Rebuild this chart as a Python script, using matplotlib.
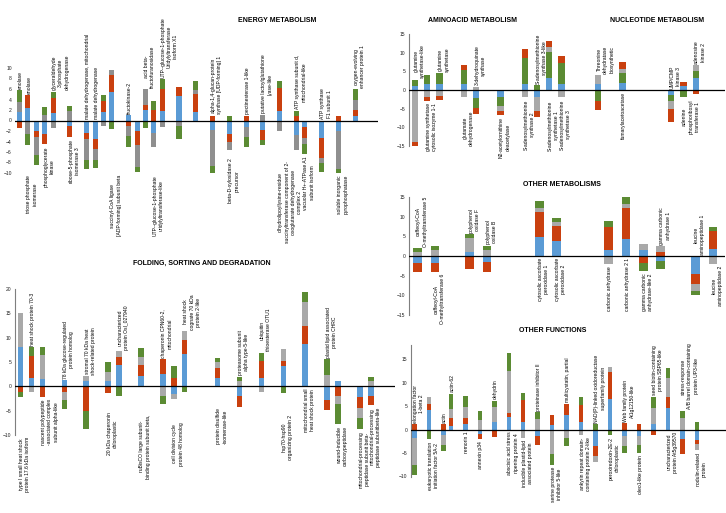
import numpy as np
import matplotlib
matplotlib.use("Agg")
import matplotlib.pyplot as plt

plt.rcParams['font.family'] = ['Liberation Sans', 'DejaVu Sans']

W, H = 726, 513
BLUE, RED, GREEN = '#5b9bd5', '#c9400f', '#5b8b33'
GREY_DARK, GREY = '#8f8f8f', '#a9a9a9'

# ---------------- ENERGY METABOLISM ----------------
energy_labels = [
    "enolase", "enolase", "triose phosphate\nisomerase", "phosphoglycerate\nkinase",
    "glyceraldehyde\n3-phosphate\ndehydrogenase", "ribose-5-phosphate\nisomerase 3",
    "malate dehydrogenase, mitochondrial", "malate dehydrogenase", "malate dehydrogenase",
    "succinyl-CoA ligase\n[ADP-forming] subunit beta", "fructokinase-2", "fructokinase-5",
    "acid beta-\nfructofuranosidase", "UTP--glucose-1-phosphate\nuridylyltransferase-like",
    "UTP--glucose-1-phosphate\nUridylyltransferase\nisoform X1",
    "pyruvate dehydrogenase E1\ncomponent subunit alpha,",
    "aldehyde dehydrogenase\nfamily 2 member B7d",
    "alpha-1,4-glucan-protein\nsynthase [UDP-forming] 1", "beta-D-xylosidase 2\nprecursor",
    "pectinesterase 1-like", "putative lactoylglutathione\nlyase-like",
    "dihydrolipoyllysine-residue\nsuccinyltransferase component of 2-\noxoglutarate dehydrogenase\ncomplex 2",
    "ATP synthase subunit d,\nmitochondrial-like", "vacuolar H+-ATPase A1\nsubunit isoform",
    "ATP synthase\nF1 subunit 1", "soluble inorganic\npyrophosphatase",
    "oxygen-evolving\nenhancer protein 1",
]
energy_blue = [1.7, 2.3, -2.0, -2.6, 1.4, -1.1, -2.4, -3.5, 1.6, 5.4, 1.0, -2.0, 2.0, -2.3,
               1.9, 4.6, 1.7, -1.8, -2.6, -1.3, -1.8, 1.9, -2.8, -1.3, -3.3, -2.0, 0.9]
energy_red = [-1.5, 2.5, -1.2, -1.9, 2.9, -2.0, -1.1, -2.0, 2.1, 3.3, -1.0, -2.7, 1.0, 2.0,
              4.1, 1.7, 3.3, 0.9, -1.5, 0.9, -1.9, 4.3, 0.9, -2.1, -3.9, 0.9, 1.1]
energy_grey = [1.9, -2.5, -3.3, 1.0, -1.5, 1.9, -4.0, -2.0, -1.1, 1.0, -2.0, -4.1, 3.0, -2.7,
               -1.2, -1.0, 0.8, -6.9, -1.6, -1.9, 1.1, -2.0, -2.8, -1.1, -0.9, -7.2, 2.0]
energy_green = [2.2, -2.2, -2.0, 1.5, 1.2, 0.9, -1.8, -1.5, 1.1, -1.6, -2.0, -1.0, -1.5, 1.7,
                1.9, -2.6, 1.7, -1.3, 0.9, -1.8, -0.9, 1.3, 1.0, -1.9, -1.7, -0.8, 2.0]
energy_slots = [0, 1, 2, 3, 4, 6, 8, 9, 10, 11, 13, 14, 15, 16, 17, 19, 21, 23, 25, 27, 29,
                31, 33, 34, 36, 38, 40]
energy_side = "uudduduuddudududduduudududu"
energy_label_at = {2: -10, 8: -12.5, 9: -10, 11: -10.3, 13: -10, 15: -10.3, 16: -10.3,
                   18: -6.8, 21: -7.4}
energy_nudge = {2: -1.0}

# ---------------- AMINOACID + NUCLEOTIDE METABOLISM ----------------
amino_labels = [
    "glutamine\nsynthetase-like", "glutamine synthetase\ncytosolic isozyme 1-1",
    "glutamine\nsynthetase", "glutamate\ndehydrogenase", "3-dehydroquinate\nsynthase",
    "N2-acetylornithine\ndeacetylase", "S-adenosylmethionine\nsynthase 2",
    "S-adenosylmethionine\nsynthase 3-like", "S-adenosylmethionine\nsynthetase 1",
    "S-adenosylmethionine\nsynthetase 3", "Threonine\ndehydratase\nbiosynthetic",
    "fumarylacetoacetase", "UMP/CMP\nkinase 3", "adenine\nphosphoribosyl\ntransferase 1",
    "adenosine\nkinase 2",
]
amino_blue = [1.2, 1.6, 1.6, 1.6, -2.2, -1.8, 1.6, -2.0, 3.3, 1.6, 1.6, 1.8, -1.3, 1.2, 3.1]
amino_green = [1.6, 2.5, 2.9, 3.8, -2.7, -2.4, 7.0, 1.3, 6.9, 5.6, -2.9, 2.7, -1.6, -2.0, 1.9]
amino_grey = [-13.8, -1.8, -1.5, -2.0, 0.9, -1.4, -2.0, -3.5, 1.2, -2.0, 2.4, 1.1, -2.3, 0.0, 1.6]
amino_red = [-1.5, -1.1, -1.1, 1.2, -1.6, -1.1, 2.4, -1.7, 1.6, 1.8, -2.5, 1.9, -3.3, 0.9, -1.1]
amino_slots = [0, 1, 2, 4, 5, 7, 9, 10, 11, 12, 15, 17, 21, 22, 23]
amino_side = "udududduddudu" + "du"
amino_label_at = {3: -4.8, 8: -2.3}

# ---------------- OTHER METABOLISMS ----------------
other_labels = [
    "caffeoyl-CoA\nO-methyltransferase 5", "caffeoyl-CoA\nO-methyltransferase 6",
    "polyphenol\noxidase F", "polyphenol\noxidase B", "cytosolic ascorbate\nperoxidase 1",
    "cytosolic ascorbate\nperoxidase 2", "carbonic anhydrase", "carbonic anhydrase 2 1",
    "gamma carbonic\nanhydrase-like 2", "gamma carbonic\nanhydrase 1",
    "leucine\naminopeptidase 1", "leucine\naminopeptidase 2",
]
other_blue = [-1.9, -1.7, 1.0, -1.6, 4.8, 3.9, 1.6, 4.3, 1.6, -1.3, -4.7, 1.8]
other_red = [-2.1, -2.4, -3.3, -2.5, 6.5, 3.7, 5.7, 7.9, -1.9, 1.0, -2.3, 4.5]
other_grey = [1.0, 1.6, 3.6, 1.6, 1.0, 1.0, -2.0, 1.0, 1.5, 1.5, -2.0, -2.0]
other_green = [1.0, 1.0, 1.0, 1.0, 1.7, 1.0, 1.7, 1.8, -2.0, -2.0, -1.0, 1.2]
other_slots = [0, 1, 3, 4, 7, 8, 11, 12, 13, 14, 16, 17]
other_side = "uduuddddduud"

# ---------------- OTHER FUNCTIONS ----------------
func_labels = [
    "elongation factor\n1-beta 2", "eukaryotic translation\ninitiation factor 5A-2", "actin",
    "actin-62", "remorin 1", "annexin p34", "dehydrin",
    "abscisic acid stress\nripening protein 4", "inducible plastid-lipid\nassociated protein",
    "proteinase inhibitor II", "serine protease\ninhibitor 5-like", "multicystatin, partial",
    "ankyrin repeat domain-\ncontaining protein 2-like",
    "NAD(P)-linked oxidoreductase\nsuperfamily protein", "peroxiredoxin-2E-2\nchloroplastic",
    "Web family protein\nAt1g12150-like", "oleo1-like protein",
    "seed biotin-containing\nprotein SBP65-like", "uncharacterized\nprotein At5g39570",
    "stress-response\nA/B barrel domain-containing\nprotein UP3-like", "nodulin-related\nprotein",
]
func_blue = [-1.9, 4.2, -1.2, 0.8, 1.2, -1.0, 1.7, 2.6, 1.7, -1.3, 0.9, 3.1, 1.6, -3.5, 6.5,
             -1.3, -1.3, 1.1, 4.6, -2.1, -2.2]
func_red = [1.2, 1.2, 1.2, 1.7, 1.3, -1.1, -1.6, 1.0, 4.6, -1.9, 2.1, 2.4, 3.6, -2.2, 5.8,
            1.3, 1.1, -1.2, 2.4, -3.2, -0.9]
func_grey = [-5.7, 1.6, -2.1, 1.8, 2.4, 2.0, 3.2, 8.8, -1.8, 2.3, -5.3, -1.8, -1.1, -1.3, 1.0,
             -2.1, -1.9, 3.5, 4.0, 2.5, -1.3]
func_green = [-2.0, -2.1, -1.2, 3.3, 2.2, 2.0, 1.2, 3.9, 1.5, 1.4, -2.2, -1.8, 1.8, 1.2, -1.1,
              -1.7, -1.7, 2.4, 2.0, 1.5, 1.5]
func_slots = [0, 2, 4, 5, 7, 9, 11, 13, 15, 17, 19, 21, 23, 25, 27, 29, 31, 33, 35, 37, 39]
func_side = "uduudduddudududududud"

# ---------------- FOLDING, SORTING AND DEGRADATION ----------------
fold_labels = [
    "type I small heat shock\nprotein 17.6 kDa isoform", "heat shock protein 70-3",
    "nascent polypeptide\n-associated complex\nsubunit alpha-like",
    "78 kDa glucose-regulated\nprotein homolog", "stromal 70 kDa heat\nshock-related protein",
    "20 kDa chaperonin\nchloroplastic", "uncharacterized\nprotein OsI_027940",
    "ruBisCO large subunit-\nbinding protein subunit beta,",
    "chaperonin CPN60-2,\nmitochondrial", "cell division cycle\nprotein 48 homolog",
    "heat shock\ncognate 70 kDa\nprotein 2-like", "protein disulfide\n-isomerase-like",
    "proteasome subunit\nalpha type-5-like", "ubiquitin\nthioesterase OTU1",
    "hsp70-hsp90\norganizing protein 2", "mitochondrial small\nheat shock protein",
    "plastid lipid associated\nprotein CHRC", "wound-inducible\ncarboxypeptidase",
    "mitochondrial-processing\npeptidase subunit beta-",
    "mitochondrial-processing\npeptidase subunitbeta-like",
]
fold_blue = [8.0, 1.8, 1.5, 1.2, 1.1, 1.1, 4.3, 2.2, 2.5, -1.5, 6.7, 1.8, -1.9, 1.7, 4.1, 8.8,
             -2.8, 1.0, -2.2, -1.9]
fold_red = [-1.2, 4.5, -2.1, -1.2, -5.1, -1.3, 1.7, 2.1, 3.1, 1.7, 2.8, 2.0, -2.3, 3.6, 1.2,
            3.5, -2.1, -1.9, -2.3, -2.0]
fold_grey = [7.0, -1.2, 5.0, -1.6, 1.0, 1.9, 1.2, 1.8, -2.0, -1.1, 1.8, 1.1, 1.0, -1.2, 2.3,
             5.0, 2.4, -1.7, -2.0, 1.0]
fold_green = [-1.0, 1.8, 1.6, -1.8, -3.7, 2.0, -2.0, 1.7, -1.6, 2.4, -1.2, 0.9, 1.0, 1.6, -1.4,
              2.0, 3.2, -4.1, -2.2, 1.0]
fold_slots = [0, 1, 2, 4, 6, 8, 9, 11, 13, 14, 15, 18, 20, 22, 24, 26, 28, 29, 31, 32]
fold_side = "duduududududuudduddd"
fold_label_at = {0: -10, 5: -4.9, 7: -5.3, 9: -6.9, 11: -4.1, 14: -5.5, 17: -7.6}


fig = plt.figure(figsize=(W / 100, H / 100), dpi=100)


def make_axes(px_left, px_right, px_top, px_bottom, xlim, ylim, yticks, spine=True):
    ax = fig.add_axes([px_left / W, 1 - px_bottom / H,
                       (px_right - px_left) / W, (px_bottom - px_top) / H])
    ax.set_xlim(*xlim)
    ax.set_ylim(*ylim)
    ax.set_yticks(yticks)
    ax.set_xticks([])
    for s in ('top', 'right', 'bottom'):
        ax.spines[s].set_visible(False)
    ax.spines['left'].set_visible(spine)
    ax.spines['left'].set_color('#7f7f7f')
    ax.spines['left'].set_linewidth(0.8)
    ax.tick_params(axis='y', labelsize=3.6, length=0, pad=2.5, labelcolor='#222222')
    ax.patch.set_alpha(0)
    ax.axhline(0, color='black', lw=0.9, zorder=3)
    return ax


def draw_stacks(ax, slots, series, colors, labels, sides, width, label_at=None, nudge=None):
    label_at = label_at or {}
    nudge = nudge or {}
    x = np.array(slots, dtype=float)
    pos = np.zeros(len(x))
    neg = np.zeros(len(x))
    for vals, c in zip(series, colors):
        v = np.array(vals, dtype=float)
        bottom = np.where(v >= 0, pos, neg)
        ax.bar(x, v, width, bottom=bottom, color=c, linewidth=0, zorder=2)
        pos += np.clip(v, 0, None)
        neg += np.clip(v, None, 0)
    for i, (xi, top, bot, lab, side) in enumerate(zip(x, pos, neg, labels, sides)):
        xl = xi + nudge.get(i, 0)
        kw = dict(textcoords='offset points', rotation=90, rotation_mode='anchor',
                  va='top', multialignment='center', fontsize=3.6, linespacing=1.35,
                  zorder=4)
        if side == 'u':
            ax.annotate(lab, (xl, top), xytext=(-1.1, 1.0), ha='left', **kw)
        else:
            y0 = min(bot, label_at.get(i, bot))
            ax.annotate(lab, (xl, y0), xytext=(-1.1, -1.5), ha='right', **kw)


def title(x, y, s):
    fig.text(x / W, 1 - y / H, s, ha='center', va='center', fontsize=5, weight='bold')


# energy
ax = make_axes(15.3, 378, 68, 173, (-0.5, 42.7), (-10, 10), range(-10, 11, 2), spine=False)
draw_stacks(ax, energy_slots, [energy_blue, energy_red, energy_grey, energy_green],
            [BLUE, RED, GREY_DARK, GREEN], energy_labels, energy_side, 0.6,
            energy_label_at, energy_nudge)
title(277, 20, "ENERGY METABOLISM")

# aminoacid + nucleotide
ax = make_axes(409, 725, 34, 146, (-0.5, 25.4), (-15, 15), range(-15, 16, 5))
draw_stacks(ax, amino_slots, [amino_blue, amino_green, amino_grey, amino_red],
            [BLUE, GREEN, GREY, RED], amino_labels, amino_side, 0.5, amino_label_at)
title(472, 20, "AMINOACID METABOLISM")
title(657, 20, "NUCLEOTIDE METABOLISM")

# other metabolisms
ax = make_axes(409, 725, 197, 315, (-0.5, 17.7), (-15, 15), range(-15, 16, 5))
draw_stacks(ax, other_slots, [other_blue, other_red, other_grey, other_green],
            [BLUE, RED, GREY, GREEN], other_labels, other_side, 0.5)
title(562, 185, "OTHER METABOLISMS")

# other functions
ax = make_axes(411, 726, 345, 476.5, (-0.5, 43), (-10, 18), range(-10, 16, 5))
draw_stacks(ax, func_slots, [func_blue, func_red, func_grey, func_green],
            [BLUE, RED, GREY, GREEN], func_labels, func_side, 0.62)
title(553, 331, "OTHER FUNCTIONS")

# folding
ax = make_axes(15, 395, 289, 435, (-0.5, 34.2), (-10, 20), range(-10, 21, 5))
draw_stacks(ax, fold_slots, [fold_blue, fold_red, fold_grey, fold_green],
            [BLUE, RED, GREY, GREEN], fold_labels, fold_side, 0.5, fold_label_at)
title(202, 263, "FOLDING, SORTING AND DEGRADATION")

fig.savefig("out.png", dpi=100)
